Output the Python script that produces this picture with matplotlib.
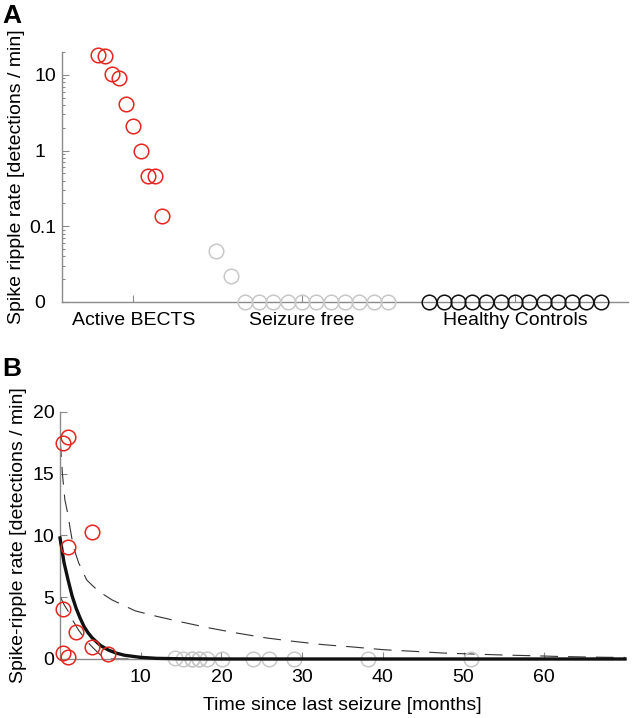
import numpy as np
import matplotlib
matplotlib.use("Agg")
import matplotlib.pyplot as plt

plt.rcParams['font.family'] = ['Liberation Sans', 'DejaVu Sans']

# ---------------- data ----------------
group_labels = ["Active BECTS", "Seizure free", "Healthy Controls"]
active_rate = [18.0, 17.5, 10.3, 9.1, 4.1, 2.1, 1.0, 0.46, 0.46, 0.136]
seizure_free_rate = [0.047, 0.022, 0, 0, 0, 0, 0, 0, 0, 0, 0, 0, 0]
control_rate = [0, 0, 0, 0, 0, 0, 0, 0, 0, 0, 0, 0, 0]

log_ticks = [0.01, 0.1, 1, 10]
log_tick_labels = ["0\u2007", "0.1", "1\u2007", "10"]

# panel B
active_time = [0.95, 0.4, 4.0, 1.0, 0.4, 1.95, 4.0, 6.0, 0.4, 1.0]
active_rate_b = [18.0, 17.5, 10.3, 9.05, 4.05, 2.2, 0.97, 0.4, 0.49, 0.136]
free_time = [14.3, 15.2, 16.4, 17.2, 18.2, 20.1, 23.9, 25.9, 29.0, 38.1, 50.9, 16.4, 17.2]
free_rate_b = [0.047, 0.022, 0, 0, 0, 0, 0, 0, 0, 0, 0, 0, 0]

fit_time = [0, 0.5, 1, 1.5, 2, 2.5, 3, 3.5, 4, 5, 6, 7, 8, 10, 12, 15, 20, 30, 70]
fit_rate = [9.8, 7.8, 6.4, 5.1, 4.1, 3.3, 2.6, 2.1, 1.7, 1.1, 0.72, 0.47, 0.30,
            0.13, 0.05, 0.015, 0, 0, 0]

upper_time = [0, 0.1, 0.3, 0.6, 0.95, 1.3, 1.65, 2.3, 3.3, 4.1, 4.75, 6.4, 9.3,
              12.0, 15.0, 18.6, 21.9, 25.6, 28.9, 32.6, 36.3, 40.1, 43.8, 47.5,
              51.2, 54.9, 58.2, 62, 66, 70]
upper_rate = [17.8, 17.0, 15.0, 12.9, 11.8, 10.4, 9.1, 7.8, 6.4, 5.9, 5.5, 4.8,
              3.9, 3.45, 3.0, 2.5, 2.1, 1.7, 1.43, 1.16, 0.97, 0.75, 0.62, 0.48,
              0.4, 0.32, 0.27, 0.2, 0.15, 0.12]

lower_time = [0, 0.5, 1.03, 1.6, 2.27, 2.9, 3.5, 4.1, 4.75, 5.2, 5.6, 6.0, 70]
lower_rate = [5.1, 4.4, 3.85, 3.1, 2.37, 1.8, 1.3, 0.9, 0.48, 0.25, 0.1, 0.0, 0.0]

# ---------------- style ----------------
RED = "#e3261f"
GRAY = "#c8c8c8"
BLACK = "#111111"
SPINE = "#8a8a8a"
FS = 14
MS = 10.5
MEW = 1.1

fig = plt.figure(figsize=(6.33, 7.18), dpi=100)

# ---------------- panel A ----------------
axA = fig.add_axes([0.0979, 0.5794, 0.894, 0.3482])
zero_floor = 0.01
active_x = 2.5 + 0.5 * np.arange(len(active_rate))
free_x = 10.8 + 1.0 * np.arange(len(seizure_free_rate))
ctrl_x = 25.7 + 1.0 * np.arange(len(control_rate))
for xs, ys, c in [(active_x, active_rate, RED), (free_x, seizure_free_rate, GRAY),
                  (ctrl_x, control_rate, BLACK)]:
    axA.plot(xs, np.maximum(np.array(ys, float), zero_floor), 'o', mfc='none',
             mec=c, ms=MS, mew=MEW, clip_on=False, zorder=3)
axA.set_yscale('log')
axA.set_ylim(0.01, 20)
axA.set_xlim(0, 39.6)
axA.set_yticks(log_ticks)
axA.set_yticklabels(log_tick_labels)
axA.set_xticks([active_x[5], free_x[6], ctrl_x[6]])
axA.set_xticklabels(group_labels)
axA.yaxis.set_minor_locator(matplotlib.ticker.LogLocator(base=10, subs=np.arange(2, 10)))
axA.yaxis.set_minor_formatter(matplotlib.ticker.NullFormatter())
axA.set_ylabel("Spike ripple rate [detections / min]", fontsize=FS)
axA.yaxis.set_label_coords((25 - 62) / 566, 0.5)

# ---------------- panel B ----------------
axB = fig.add_axes([0.0948, 0.0822, 0.8926, 0.344])
axB.plot(upper_time, upper_rate, color="#333333", lw=0.8, ls=(0, (16, 9)), zorder=2)
axB.plot(lower_time, lower_rate, color="#333333", lw=0.8, ls=(0, (16, 9)), zorder=2)
axB.plot(fit_time, fit_rate, color=BLACK, lw=2.4, zorder=4, clip_on=False)
axB.plot(free_time, free_rate_b, 'o', mfc='none', mec=GRAY, ms=MS, mew=MEW,
         clip_on=False, zorder=3)
axB.plot(active_time, active_rate_b, 'o', mfc='none', mec=RED, ms=MS, mew=MEW,
         clip_on=False, zorder=5)
axB.set_xlim(0, 70)
axB.set_ylim(0, 20)
axB.set_xticks([10, 20, 30, 40, 50, 60])
axB.set_yticks([0, 5, 10, 15, 20])
axB.set_xlabel("Time since last seizure [months]", fontsize=FS, labelpad=8)
axB.set_ylabel("Spike-ripple rate [detections / min]", fontsize=FS)
axB.yaxis.set_label_coords((27 - 60) / 565, 0.5)

for ax in (axA, axB):
    for s in ('top', 'right'):
        ax.spines[s].set_visible(False)
    for s in ('left', 'bottom'):
        ax.spines[s].set_color(SPINE)
        ax.spines[s].set_linewidth(1.0)
    ax.tick_params(which='major', direction='in', length=5, width=0.8,
                   color=SPINE, labelsize=FS, pad=4)
    ax.tick_params(which='minor', direction='in', length=2.5, width=0.8, color=SPINE)
axA.tick_params(axis='x', pad=7)
axB.tick_params(axis='x', pad=7)

fig.text(0.004, 0.995, "A", fontsize=19, fontweight='bold', va='top', ha='left')
fig.text(0.004, 1 - 357 / 718, "B", fontsize=19, fontweight='bold', va='top', ha='left')

fig.savefig("out.png", dpi=100)
